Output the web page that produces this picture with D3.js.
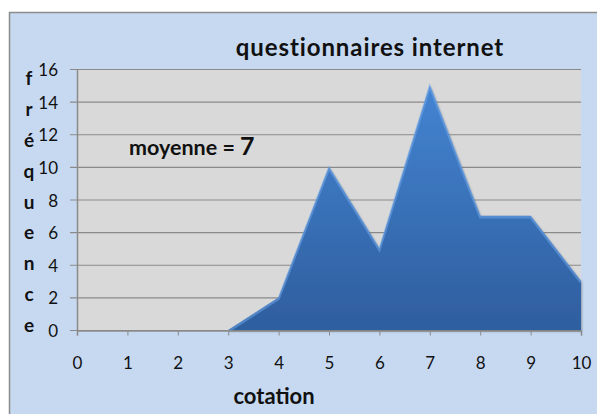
<!DOCTYPE html>
<html>
<head>
<meta charset="utf-8">
<script src="https://cdn.jsdelivr.net/npm/d3@7"></script>
<style>
  body { margin: 0; background: #ffffff; }
  text { font-family: Lato, "Open Sans", sans-serif; fill: #111; }
</style>
</head>
<body>
<div id="vis"></div>
<script>
// données
const COTATIONS = [0, 1, 2, 3, 4, 5, 6, 7, 8, 9, 10];
const FREQUENCES = [null, null, null, 0, 2, 10, 5, 15, 7, 7, 3];
const TICKS_Y = [0, 2, 4, 6, 8, 10, 12, 14, 16];
const LETTRES_Y = ["f", "r", "é", "q", "u", "e", "n", "c", "e"];

const WIDTH = 597;
const HEIGHT = 414;
const SVG = d3.select("#vis").append("svg")
    .attr("width", WIDTH).attr("height", HEIGHT);

// fond du graphique
SVG.append("rect")
    .attr("x", 9.5).attr("y", 12.5)
    .attr("width", WIDTH).attr("height", HEIGHT)
    .attr("fill", "#c6d9f1")
    .attr("stroke", "#8c8c8c").attr("stroke-width", 1.5);

const x = d3.scaleLinear().domain([0, 10]).range([77, 581]);
const y = d3.scaleLinear().domain([0, 16]).range([330, 69]);

// zone de tracé
SVG.append("rect")
    .attr("x", x(0)).attr("y", y(16))
    .attr("width", x(10) - x(0)).attr("height", y(0) - y(16))
    .attr("fill", "#d9d9d9");

// grille
SVG.append("g").selectAll("line")
    .data(TICKS_Y)
    .join("line")
    .attr("x1", x(0) - 7).attr("x2", x(10))
    .attr("y1", d => y(d) + 0.5).attr("y2", d => y(d) + 0.5)
    .attr("stroke", "#8a8a8a").attr("stroke-width", 1.2);

// dégradé de la surface
const defs = SVG.append("defs");
const grad = defs.append("linearGradient")
    .attr("id", "bleu").attr("x1", 0).attr("y1", 0).attr("x2", 0).attr("y2", 1);
grad.append("stop").attr("offset", "0%").attr("stop-color", "#4484d2");
grad.append("stop").attr("offset", "100%").attr("stop-color", "#2e5e9e");

const ombre = defs.append("filter").attr("id", "ombre")
    .attr("x", "-5%").attr("y", "-5%").attr("width", "115%").attr("height", "115%");
ombre.append("feDropShadow")
    .attr("dx", 1).attr("dy", 1.5).attr("stdDeviation", 1.2)
    .attr("flood-color", "#000").attr("flood-opacity", 0.3);

const points = COTATIONS.map((c, i) => ({ c: c, f: FREQUENCES[i] }))
    .filter(d => d.f !== null);

const aire = d3.area()
    .x(d => x(d.c))
    .y0(y(0))
    .y1(d => y(d.f));

SVG.append("path")
    .datum(points)
    .attr("d", aire)
    .attr("fill", "url(#bleu)")
    .attr("filter", "url(#ombre)");

// biseau clair sur le bord supérieur
const ligne = d3.line().x(d => x(d.c)).y(d => y(d.f) + 1.5);
SVG.append("path")
    .datum(points)
    .attr("d", ligne)
    .attr("fill", "none")
    .attr("stroke", "#6ea4e6")
    .attr("stroke-width", 2.5)
    .attr("opacity", 0.55);

// axes
SVG.append("line")
    .attr("x1", x(0) + 0.5).attr("x2", x(0) + 0.5)
    .attr("y1", y(16)).attr("y2", y(0))
    .attr("stroke", "#8a8a8a").attr("stroke-width", 1.5);

const axeX = d3.axisBottom(x).tickValues(COTATIONS).tickSize(5).tickPadding(21);
SVG.append("g")
    .attr("transform", `translate(0,${y(0) + 0.5})`)
    .call(axeX)
    .call(g => g.select(".domain").attr("stroke", "#8a8a8a").attr("stroke-width", 1.5))
    .call(g => g.selectAll(".tick line").attr("stroke", "#8a8a8a"))
    .call(g => g.selectAll(".tick text")
        .attr("font-family", "Lato, 'Open Sans', sans-serif")
        .attr("font-size", 17).attr("fill", "#111"));

// étiquettes de l'axe y
SVG.append("g").selectAll("text")
    .data(TICKS_Y)
    .join("text")
    .attr("x", 58).attr("y", d => y(d) + 7)
    .attr("text-anchor", "end")
    .attr("font-size", 17)
    .text(d => d);

// titre vertical, une lettre par ligne
const yLettres = d3.scalePoint().domain(d3.range(LETTRES_Y.length)).range([85, 332]);
SVG.append("g").selectAll("text")
    .data(LETTRES_Y)
    .join("text")
    .attr("x", 29).attr("y", (d, i) => yLettres(i))
    .attr("text-anchor", "middle")
    .attr("font-size", 19).attr("font-weight", "bold")
    .text(d => d);

// titre
SVG.append("text")
    .attr("x", 370).attr("y", 56)
    .attr("text-anchor", "middle")
    .attr("font-size", 24).attr("font-weight", "bold")
    .attr("letter-spacing", 0.9)
    .text("questionnaires internet");

SVG.append("text")
    .attr("x", 274).attr("y", 404)
    .attr("text-anchor", "middle")
    .attr("font-size", 22).attr("font-weight", "bold")
    .text("cotation");

// moyenne
const moy = SVG.append("text")
    .attr("x", 129).attr("y", 155)
    .attr("font-size", 21.5).attr("font-weight", "bold");
moy.append("tspan").text("moyenne = ");
moy.append("tspan").attr("font-size", 25).text("7");
</script>
</body>
</html>
